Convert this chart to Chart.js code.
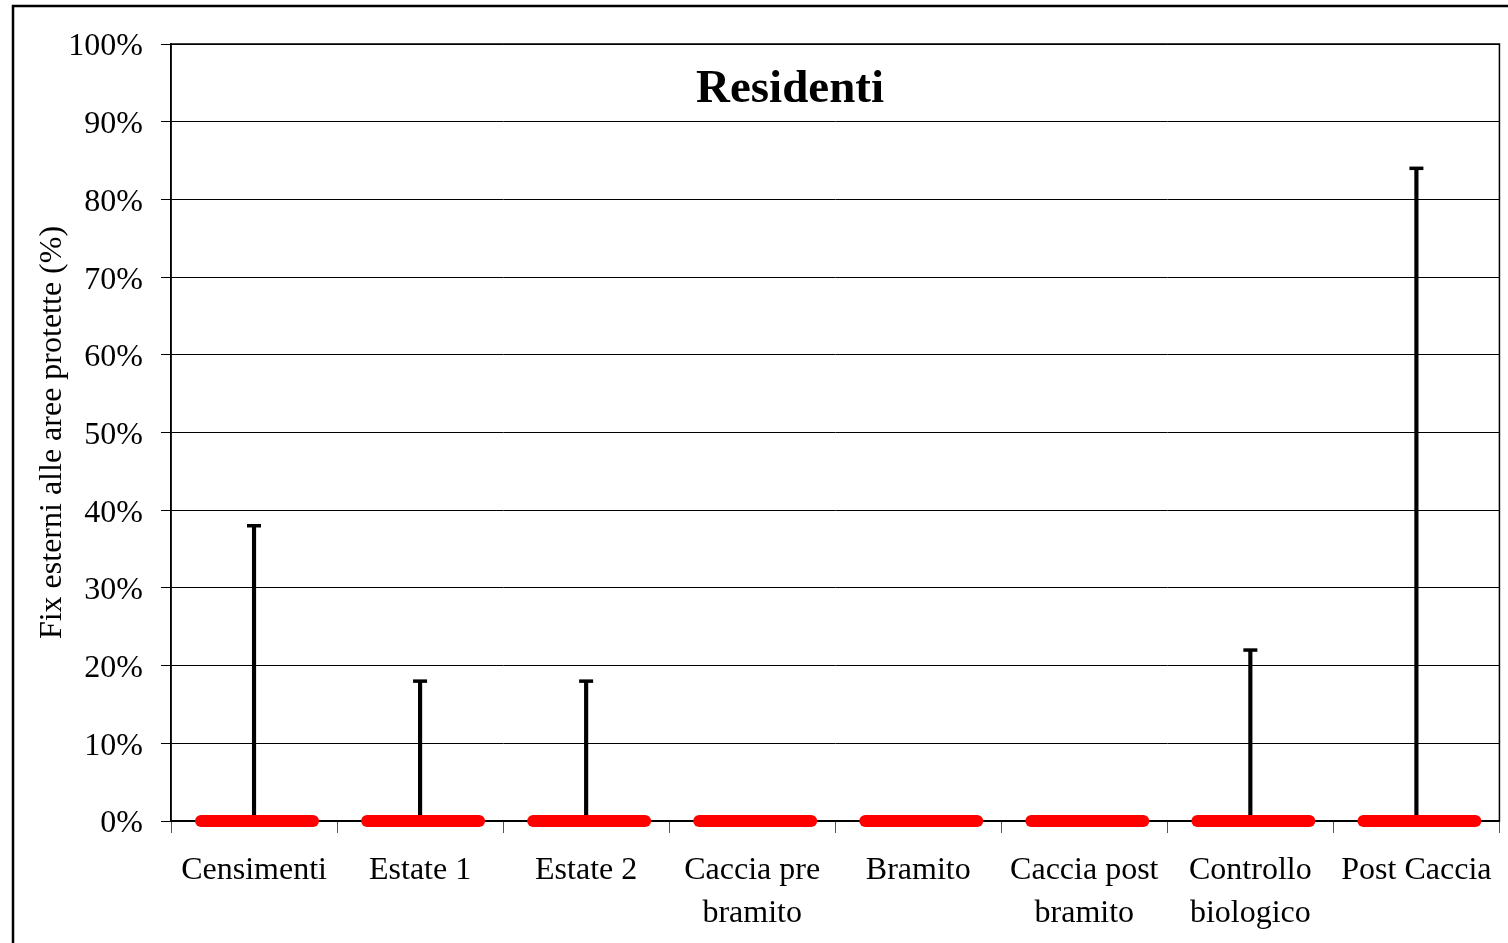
<!DOCTYPE html>
<html>
<head>
<meta charset="utf-8">
<script src="https://cdn.jsdelivr.net/npm/chart.js@4.4.0/dist/chart.umd.min.js"></script>
<style>
  html, body { margin: 0; padding: 0; background: #fff; }
  #wrap { width: 1508px; height: 943px; }
</style>
</head>
<body>
<div id="wrap"><canvas id="chart" width="1508" height="943"></canvas></div>
<script>
// Data
const categories = ['Censimenti', 'Estate 1', 'Estate 2', ['Caccia pre', 'bramito'], 'Bramito',
    ['Caccia post', 'bramito'], ['Controllo', 'biologico'], 'Post Caccia'];
const medianValues = [0, 0, 0, 0, 0, 0, 0, 0];
const upperValues = [38, 18, 18, 0, 0, 0, 22, 84];
const yTicks = [0, 10, 20, 30, 40, 50, 60, 70, 80, 90, 100];

const serif = "'Liberation Serif', 'Times New Roman', serif";

// frame, plot border, caps, red medians and title
const decorPlugin = {
    id: 'decor',
    beforeDraw(chart) {
        const ctx = chart.ctx;
        ctx.save();
        ctx.fillStyle = '#fff';
        ctx.fillRect(0, 0, chart.width, chart.height);
        ctx.strokeStyle = '#000';
        ctx.lineWidth = 2.5;
        ctx.strokeRect(13, 6, 1520, 1000);
        ctx.restore();
    },
    afterDatasetsDraw(chart) {
        const ctx = chart.ctx;
        const x = chart.scales.x, y = chart.scales.y;
        const area = chart.chartArea;
        ctx.save();
        // plot border
        ctx.strokeStyle = '#000';
        ctx.lineWidth = 1.5;
        ctx.strokeRect(area.left, area.top, area.right - area.left, area.bottom - area.top);

        // whisker caps
        ctx.lineWidth = 3.5;
        upperValues.forEach(function(v, i) {
            if (v <= medianValues[i]) return;
            let cx = x.getPixelForValue(i);
            let cy = y.getPixelForValue(v);
            ctx.beginPath();
            ctx.moveTo(cx - 7, cy);
            ctx.lineTo(cx + 7, cy);
            ctx.stroke();
        });

        // red median bars
        ctx.strokeStyle = '#ff0000';
        ctx.lineWidth = 12;
        ctx.lineCap = 'round';
        medianValues.forEach(function(v, i) {
            let cx = x.getPixelForValue(i) + 3;
            let cy = y.getPixelForValue(v);
            ctx.beginPath();
            ctx.moveTo(cx - 56, cy);
            ctx.lineTo(cx + 56, cy);
            ctx.stroke();
        });

        // title inside the plot
        ctx.fillStyle = '#000';
        ctx.font = 'bold 47px ' + serif;
        ctx.textAlign = 'center';
        ctx.textBaseline = 'middle';
        ctx.fillText('Residenti', 790, 90);
        ctx.restore();
    }
};

new Chart(document.getElementById('chart'), {
    type: 'bar',
    data: {
        labels: categories,
        datasets: [{
            label: 'Fix esterni',
            data: upperValues.map(function(v, i) { return [medianValues[i], v]; }),
            backgroundColor: '#000',
            borderWidth: 0,
            barThickness: 3.5,
            borderSkipped: false
        }]
    },
    options: {
        responsive: false,
        animation: false,
        layout: { padding: { top: 44, right: 8, left: 0, bottom: 0 } },
        plugins: {
            legend: { display: false },
            tooltip: { enabled: false },
            title: { display: false }
        },
        scales: {
            x: {
                offset: true,
                grid: {
                    offset: true,
                    drawOnChartArea: false,
                    color: '#000',
                    tickLength: 12,
                    tickColor: '#555'
                },
                border: { color: '#000', width: 1.5 },
                ticks: {
                    color: '#000',
                    font: { family: serif, size: 32, lineHeight: 1.35 },
                    padding: 16,
                    maxRotation: 0,
                    autoSkip: false
                },
                afterFit: function(scale) { scale.height = 122; }
            },
            y: {
                min: 0,
                max: 100,
                afterBuildTicks: function(scale) {
                    scale.ticks = yTicks.map(function(v) { return { value: v }; });
                },
                grid: {
                    color: '#000',
                    lineWidth: 1,
                    tickLength: 10
                },
                border: { color: '#000', width: 1.5 },
                ticks: {
                    color: '#000',
                    font: { family: serif, size: 32 },
                    padding: 18,
                    labelOffset: 3,
                    callback: function(v) { return v + '%'; }
                },
                title: {
                    display: true,
                    text: 'Fix esterni alle aree protette (%)',
                    color: '#000',
                    font: { family: serif, size: 32 },
                    padding: { top: 33, bottom: 0 }
                },
                afterFit: function(scale) { scale.width = 171; }
            }
        }
    },
    plugins: [decorPlugin]
});
</script>
</body>
</html>
